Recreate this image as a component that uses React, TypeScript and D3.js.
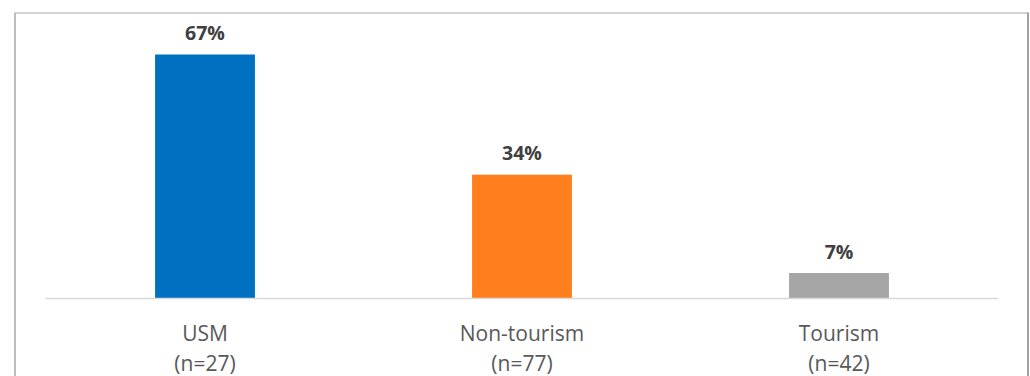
import React from "react";
import * as d3 from "d3";

const categories = ["USM", "Non-tourism", "Tourism"];
const sampleSizes = ["(n=27)", "(n=77)", "(n=42)"];
const values = [0.67, 0.34, 0.07];
const colors = ["#0070c0", "#ff7f1f", "#a5a5a5"];

const W = 1030;
const H = 376;

export default function App() {
  const x = d3
    .scaleBand<string>()
    .domain(categories)
    .range([46.5, 997.5])
    .paddingInner(0.685)
    .paddingOuter(0.3425);
  const y = d3.scaleLinear().domain([0, 0.67]).range([298.5, 54.5]);
  const fmt = d3.format(".0%");

  return (
    <svg
      width={W}
      height={H}
      style={{ position: "absolute", left: 0, top: 0, background: "#fff" }}
      fontFamily="'Open Sans', sans-serif"
    >
      {/* frame */}
      <line x1={15} y1={13} x2={1028} y2={13} stroke="#c4c4c4" strokeWidth={1.5} />
      <line x1={15} y1={12.5} x2={15} y2={H} stroke="#bdbdbd" strokeWidth={2} />
      <line x1={1028} y1={12.5} x2={1028} y2={H} stroke="#a0a0a0" strokeWidth={2} />

      {categories.map((c, i) => {
        const bx = x(c)!;
        const bw = x.bandwidth();
        const cx = bx + bw / 2;
        return (
          <g key={c}>
            <rect
              x={bx}
              y={y(values[i])}
              width={bw}
              height={y(0) - y(values[i])}
              fill={colors[i]}
            />
            <text
              x={cx}
              y={y(values[i]) - 14.5}
              textAnchor="middle"
              fontSize={19.5}
              fontWeight="bold"
              fill="#404040"
            >
              {fmt(values[i])}
            </text>
            <text x={cx} y={341} textAnchor="middle" fontSize={21} fill="#595959">
              {c}
            </text>
            <text x={cx} y={371} textAnchor="middle" fontSize={21} fill="#595959">
              {sampleSizes[i]}
            </text>
          </g>
        );
      })}

      {/* baseline */}
      <line x1={45} y1={298.5} x2={998} y2={298.5} stroke="#d9d9d9" strokeWidth={1.5} />
    </svg>
  );
}
